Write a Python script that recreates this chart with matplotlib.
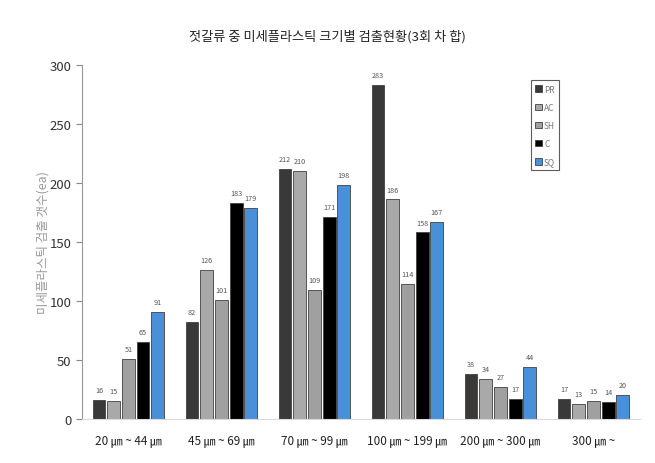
import numpy as np
import matplotlib
matplotlib.use("Agg")
import matplotlib.pyplot as plt

plt.rcParams['font.family'] = ['Noto Sans CJK KR', 'DejaVu Sans']

categories = ["20 ㎛ ~ 44 ㎛", "45 ㎛ ~ 69 ㎛", "70 ㎛ ~ 99 ㎛",
              "100 ㎛ ~ 199 ㎛", "200 ㎛ ~ 300 ㎛", "300 ㎛ ~"]
series = ["PR", "AC", "SH", "C", "SQ"]
PR = [16, 82, 212, 283, 38, 17]
AC = [15, 126, 210, 186, 34, 13]
SH = [51, 101, 109, 114, 27, 15]
C = [65, 183, 171, 158, 17, 14]
SQ = [91, 179, 198, 167, 44, 20]
values = [PR, AC, SH, C, SQ]
colors = ["#3b3838", "#a9a9a9", "#a0a0a0", "#000000", "#4a90d9"]

fig = plt.figure(figsize=(6.55, 4.64), dpi=100)
ax = fig.add_axes([0.125, 0.095, 0.852, 0.763])

x = np.arange(len(categories))
w = 0.138
step = 0.158
for i, (name, vals) in enumerate(zip(series, values)):
    pos = x + (i - 2) * step
    ax.bar(pos, vals, w, color=colors[i], edgecolor="#404040", linewidth=0.6, label=name)
    for p, v in zip(pos, vals):
        ax.text(p, v + 5, str(v), ha="center", va="bottom", fontsize=5.2, color="#555555")

ax.set_xlim(-0.5, len(categories) - 0.5)
ax.set_ylim(0, 300)
ax.set_yticks(range(0, 301, 50))
ax.tick_params(axis="y", labelsize=9.5, colors="#888888", labelcolor="#333333", length=4)
ax.set_xticks(x)
ax.set_xticklabels(categories, fontsize=8.5, color="#222222")
ax.tick_params(axis="x", length=0, pad=10)
for s in ["top", "right"]:
    ax.spines[s].set_visible(False)
ax.spines["left"].set_color("#999999")
ax.spines["bottom"].set_color("#d9d9d9")
ax.set_ylabel("미세플라스틱 검출 갯수(ea)", fontsize=9, color="#999999", labelpad=0)

fig.suptitle("젓갈류 중 미세플라스틱 크기별 검출현황(3회 차 합)", fontsize=9.5, color="#222222", y=0.935)

leg = ax.legend(loc="upper left", bbox_to_anchor=(0.797, 0.968), bbox_transform=ax.transAxes,
                fontsize=6, frameon=True, fancybox=False, handlelength=0.8, handleheight=0.8,
                handletextpad=0.3, labelspacing=1.1, borderpad=0.5, labelcolor="#777777")
leg.get_frame().set_edgecolor("#333333")
leg.get_frame().set_linewidth(0.8)

fig.savefig("out.png", dpi=100)
